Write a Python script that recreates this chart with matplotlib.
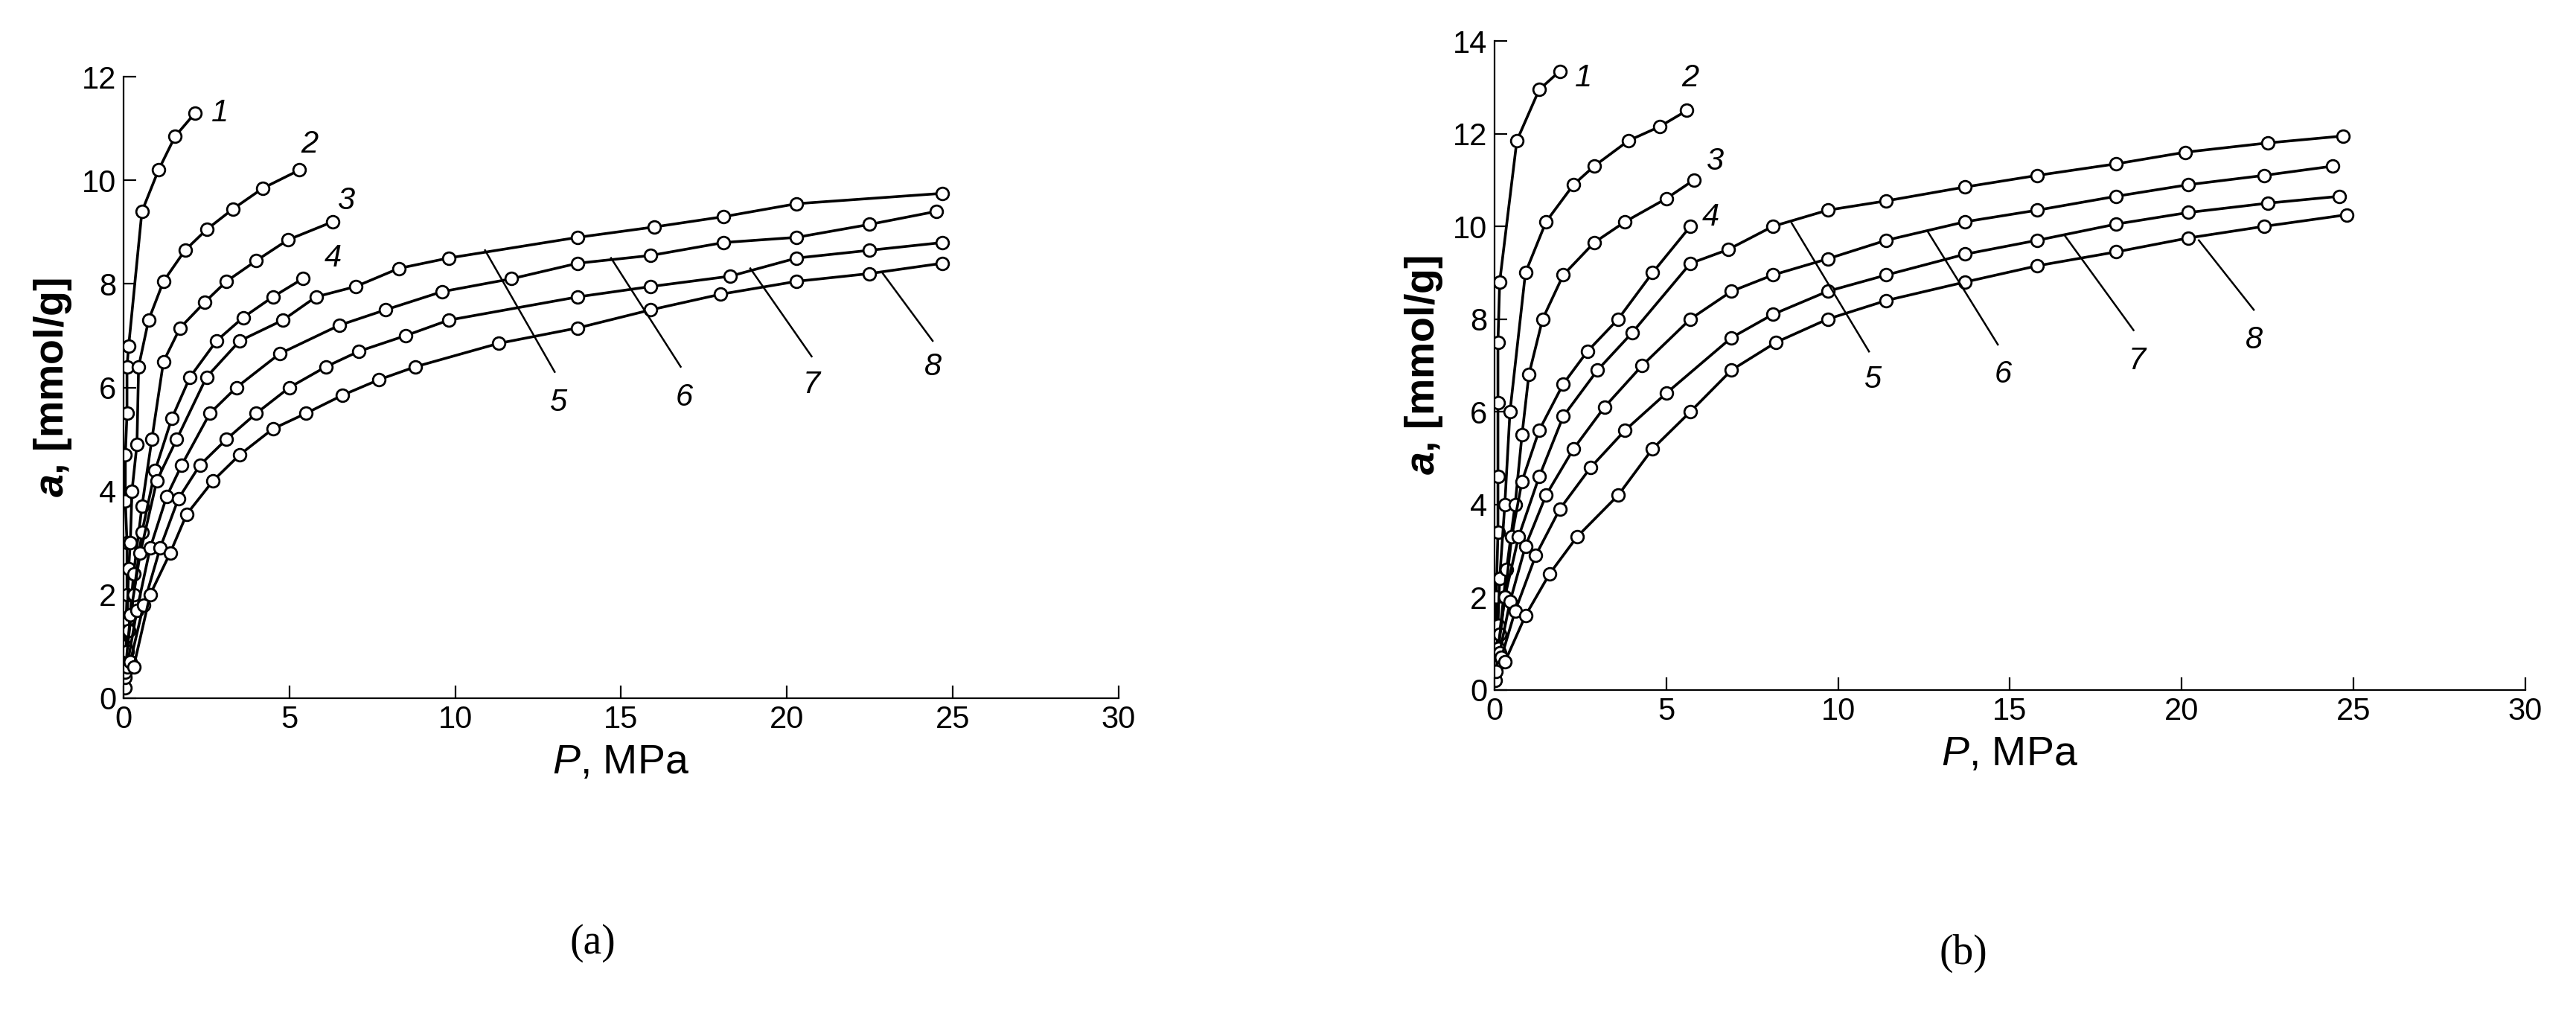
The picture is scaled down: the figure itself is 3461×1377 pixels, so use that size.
import numpy as np
import matplotlib
matplotlib.use("Agg")
import matplotlib.pyplot as plt

plt.rcParams["font.family"] = ["Liberation Sans", "DejaVu Sans"]
plt.rcParams["mathtext.fontset"] = "custom"
plt.rcParams["mathtext.it"] = "Liberation Sans:italic"
plt.rcParams["mathtext.bfit"] = "Liberation Sans:bold:italic"

# panel (a): isotherms 1..8, (P MPa, a mmol/g)
A_P = [
    [0.05, 0.05, 0.1, 0.1, 0.05, 0.05, 0.1, 0.1, 0.15, 0.55, 1.05, 1.55, 2.15],
    [0.05, 0.1, 0.15, 0.2, 0.25, 0.4, 0.45, 0.75, 1.2, 1.85, 2.5, 3.3, 4.2, 5.3],
    [0.05, 0.15, 0.3, 0.55, 0.85, 1.2, 1.7, 2.45, 3.1, 4.0, 4.95, 6.3],
    [0.1, 0.3, 0.55, 0.95, 1.45, 2.0, 2.8, 3.6, 4.5, 5.4],
    [0.05, 0.2, 0.5, 1.0, 1.6, 2.5, 3.5, 4.8, 5.8, 7.0, 8.3, 9.8, 13.7, 16.0, 18.1, 20.3, 24.7],
    [0.1, 0.4, 0.8, 1.3, 1.75, 2.6, 3.4, 4.7, 6.5, 7.9, 9.6, 11.7, 13.7, 15.9, 18.1, 20.3, 22.5, 24.5],
    [0.2, 0.6, 1.1, 1.65, 2.3, 3.1, 4.0, 5.0, 6.1, 7.1, 8.5, 9.8, 13.7, 15.9, 18.3, 20.3, 22.5, 24.7],
    [0.3, 0.8, 1.4, 1.9, 2.7, 3.5, 4.5, 5.5, 6.6, 7.7, 8.8, 11.3, 13.7, 15.9, 18.0, 20.3, 22.5, 24.7],
]
A_A = [
    [0.2, 1.0, 2.0, 3.0, 3.8, 4.7, 5.5, 6.4, 6.8, 9.4, 10.2, 10.85, 11.3],
    [0.5, 1.5, 2.5, 3.0, 4.0, 4.9, 6.4, 7.3, 8.05, 8.65, 9.05, 9.45, 9.85, 10.2],
    [0.4, 1.3, 2.4, 3.7, 5.0, 6.5, 7.15, 7.65, 8.05, 8.45, 8.85, 9.2],
    [0.9, 2.0, 3.2, 4.4, 5.4, 6.2, 6.9, 7.35, 7.75, 8.1],
    [0.5, 1.6, 2.8, 4.2, 5.0, 6.2, 6.9, 7.3, 7.75, 7.95, 8.3, 8.5, 8.9, 9.1, 9.3, 9.55, 9.75],
    [0.6, 1.7, 2.9, 3.9, 4.5, 5.5, 6.0, 6.65, 7.2, 7.5, 7.85, 8.1, 8.4, 8.55, 8.8, 8.9, 9.15, 9.4],
    [0.7, 1.8, 2.9, 3.85, 4.5, 5.0, 5.5, 6.0, 6.4, 6.7, 7.0, 7.3, 7.75, 7.95, 8.15, 8.5, 8.65, 8.8],
    [0.6, 2.0, 2.8, 3.55, 4.2, 4.7, 5.2, 5.5, 5.85, 6.15, 6.4, 6.85, 7.15, 7.5, 7.8, 8.05, 8.2, 8.4],
]

# panel (b)
B_P = [
    [0.02, 0.05, 0.05, 0.1, 0.1, 0.1, 0.1, 0.15, 0.65, 1.3, 1.9],
    [0.05, 0.1, 0.15, 0.3, 0.45, 0.9, 1.5, 2.3, 2.9, 3.9, 4.8, 5.6],
    [0.05, 0.15, 0.35, 0.6, 0.8, 1.0, 1.4, 2.0, 2.9, 3.8, 5.0, 5.8],
    [0.1, 0.3, 0.5, 0.8, 1.3, 2.0, 2.7, 3.6, 4.6, 5.7],
    [0.1, 0.3, 0.7, 1.3, 2.0, 3.0, 4.0, 5.7, 6.8, 8.1, 9.7, 11.4, 13.7, 15.8, 18.1, 20.1, 22.5, 24.7],
    [0.15, 0.45, 0.9, 1.5, 2.3, 3.2, 4.3, 5.7, 6.9, 8.1, 9.7, 11.4, 13.7, 15.8, 18.1, 20.2, 22.4, 24.4],
    [0.2, 0.6, 1.2, 1.9, 2.8, 3.8, 5.0, 6.9, 8.1, 9.7, 11.4, 13.7, 15.8, 18.1, 20.2, 22.5, 24.6],
    [0.3, 0.9, 1.6, 2.4, 3.6, 4.6, 5.7, 6.9, 8.2, 9.7, 11.4, 13.7, 15.8, 18.1, 20.2, 22.4, 24.8],
]
B_A = [
    [0.2, 1.0, 2.0, 3.4, 4.6, 6.2, 7.5, 8.8, 11.85, 12.95, 13.35],
    [0.5, 1.4, 2.4, 4.0, 6.0, 9.0, 10.1, 10.9, 11.3, 11.85, 12.15, 12.5],
    [0.4, 1.2, 2.6, 4.0, 5.5, 6.8, 8.0, 8.95, 9.65, 10.1, 10.6, 11.0],
    [0.8, 2.0, 3.3, 4.5, 5.6, 6.6, 7.3, 8.0, 9.0, 10.0],
    [0.9, 2.0, 3.3, 4.6, 5.9, 6.9, 7.7, 9.2, 9.5, 10.0, 10.35, 10.55, 10.85, 11.1, 11.35, 11.6, 11.8, 11.95],
    [0.8, 1.9, 3.1, 4.2, 5.2, 6.1, 7.0, 8.0, 8.6, 8.95, 9.3, 9.7, 10.1, 10.35, 10.65, 10.9, 11.1, 11.3],
    [0.7, 1.7, 2.9, 3.9, 4.8, 5.6, 6.4, 7.6, 8.1, 8.6, 8.95, 9.4, 9.7, 10.05, 10.3, 10.5, 10.65],
    [0.6, 1.6, 2.5, 3.3, 4.2, 5.2, 6.0, 6.9, 7.5, 8.0, 8.4, 8.8, 9.15, 9.45, 9.75, 10.0, 10.25],
]

A_LBL14 = [(2.9, 11.3), (5.6, 10.7), (6.7, 9.6), (6.3, 8.5)]
A_LEAD = [((10.9, 8.65), (13.0, 6.3), (13.1, 5.7)),
          ((14.7, 8.5), (16.8, 6.4), (16.9, 5.8)),
          ((18.9, 8.3), (20.75, 6.6), (20.75, 6.05)),
          ((22.9, 8.2), (24.4, 6.9), (24.4, 6.4))]
B_LBL14 = [(2.6, 13.2), (5.7, 13.2), (6.4, 11.4), (6.3, 10.2)]
B_LEAD = [((8.65, 10.07), (10.9, 7.3), (11.0, 6.7)),
          ((12.6, 9.9), (14.65, 7.45), (14.8, 6.8)),
          ((16.6, 9.8), (18.6, 7.76), (18.7, 7.1)),
          ((20.5, 9.7), (22.1, 8.2), (22.1, 7.55))]


def draw(ax, P, A, lbl14, lead, ymax):
    for xs, ys in zip(P, A):
        ax.plot(xs, ys, color="black", lw=1.3, marker="o", ms=6,
                mfc="white", mec="black", mew=1.0)
    for i, (x, y) in enumerate(lbl14):
        ax.text(x, y, str(i + 1), fontsize=15, style="italic", ha="center", va="center")
    for i, (p0, p1, t) in enumerate(lead):
        ax.plot([p0[0], p1[0]], [p0[1], p1[1]], color="black", lw=0.9)
        ax.text(t[0], t[1], str(i + 5), fontsize=15, style="italic", ha="center", va="center")
    ax.set_xlim(0, 30)
    ax.set_ylim(0, ymax)
    ax.set_xticks(range(0, 31, 5))
    ax.set_yticks(range(0, ymax + 1, 2))
    for s in ("top", "right"):
        ax.spines[s].set_visible(False)
    ax.tick_params(direction="in", labelsize=15, length=6)
    ax.set_xlabel(r"$\mathit{P}$, MPa", fontsize=20)
    ax.set_ylabel(r"$\mathbfit{a}$, [mmol/g]", fontsize=20, fontweight="bold")


fig = plt.figure(figsize=(17.31, 6.885), dpi=200)
axL = fig.add_axes([0.048, 0.319, 0.386, 0.606])
axR = fig.add_axes([0.580, 0.327, 0.400, 0.633])
draw(axL, A_P, A_A, A_LBL14, A_LEAD, 12)
draw(axR, B_P, B_A, B_LBL14, B_LEAD, 14)
fig.text(0.23, 0.07, "(a)", fontsize=20, family="Liberation Serif", ha="center")
fig.text(0.762, 0.06, "(b)", fontsize=20, family="Liberation Serif", ha="center")
fig.savefig("out.png", dpi=200)
